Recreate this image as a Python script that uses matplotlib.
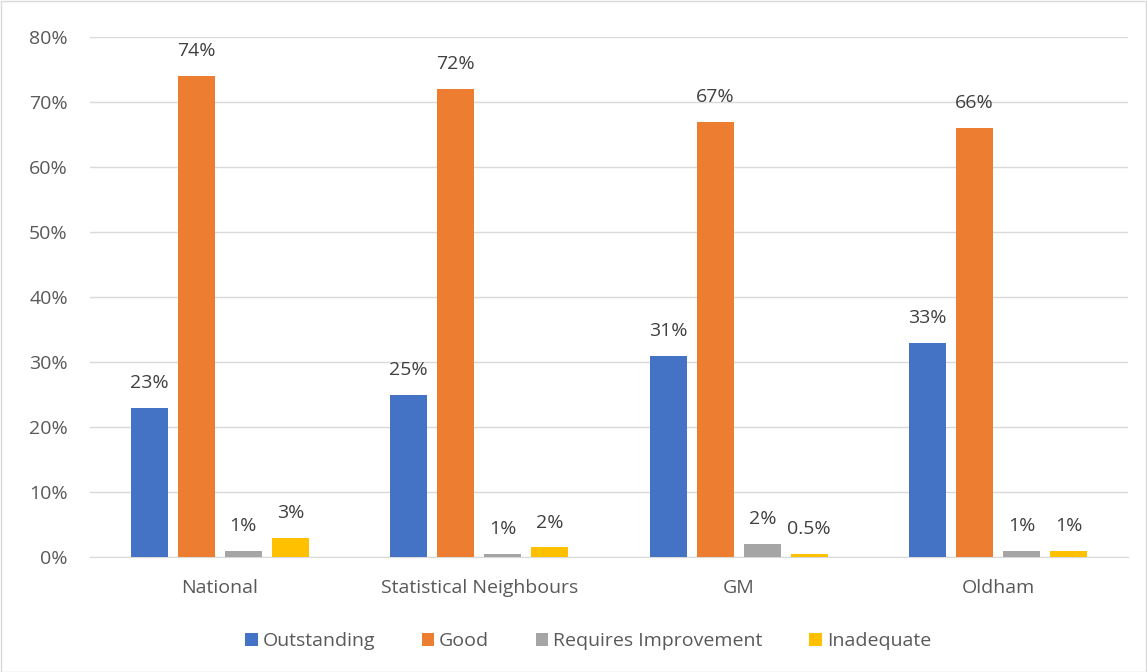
import matplotlib
matplotlib.use("Agg")
import matplotlib.pyplot as plt
import numpy as np
from matplotlib.patches import Rectangle

categories = ["National", "Statistical Neighbours", "GM", "Oldham"]
series = ["Outstanding", "Good", "Requires Improvement", "Inadequate"]
outstanding = [23, 25, 31, 33]
good = [74, 72, 67, 66]
requires_improvement = [1, 0.5, 2, 1]
inadequate = [3, 1.5, 0.5, 1]
labels_outstanding = ["23%", "25%", "31%", "33%"]
labels_good = ["74%", "72%", "67%", "66%"]
labels_ri = ["1%", "1%", "2%", "1%"]
labels_inad = ["3%", "2%", "0.5%", "1%"]
yticks = [0, 10, 20, 30, 40, 50, 60, 70, 80]

colors = ["#4472C4", "#ED7D31", "#A5A5A5", "#FFC000"]
text_color = "#595959"
plt.rcParams['font.family'] = ['Open Sans', 'DejaVu Sans']
fs = 14

fig = plt.figure(figsize=(11.47, 6.72), dpi=100)
ax = fig.add_axes([90/1147, 1-557/672, (1128-90)/1147, (557-37)/672])

x = np.arange(len(categories))
width = 37/259.5
step = 47/259.5
data = [outstanding, good, requires_improvement, inadequate]
labs = [labels_outstanding, labels_good, labels_ri, labels_inad]
for i, (vals, lab, c, name) in enumerate(zip(data, labs, colors, series)):
    pos = x + (i - 1.5) * step
    ax.bar(pos, vals, width=width, color=c, label=name, zorder=3)
    for p, v, t in zip(pos, vals, lab):
        ax.text(p, v + 2.4, t, ha="center", va="bottom", fontsize=fs, color="#404040")

ax.set_xlim(-0.5, len(categories) - 0.5)
ax.set_ylim(0, 80)
ax.set_yticks(yticks)
ax.set_yticklabels([f"{t}%" for t in yticks], fontsize=fs, color=text_color)
ax.set_xticks(x)
ax.set_xticklabels(categories, fontsize=fs, color=text_color)
ax.tick_params(axis="both", length=0)
ax.tick_params(axis="y", pad=16)
ax.tick_params(axis="x", pad=16)
ax.grid(axis="y", color="#D9D9D9", linewidth=1, zorder=0)
for s in ["top", "right", "left"]:
    ax.spines[s].set_visible(False)
ax.spines["bottom"].set_color("#D9D9D9")

leg = fig.legend(loc="center", bbox_to_anchor=(588/1147, 1-641/672), ncol=4, frameon=False,
                 fontsize=fs, handlelength=0.65, handleheight=0.65, handletextpad=0.25,
                 columnspacing=2.4)
for t in leg.get_texts():
    t.set_color(text_color)

fig.patches.append(Rectangle((0.5/1147, 0.5/672), 1-1.5/1147, 1-1.5/672, transform=fig.transFigure,
                             fill=False, edgecolor="#D9D9D9", linewidth=1))
fig.savefig("out.png", dpi=100, facecolor="white")
